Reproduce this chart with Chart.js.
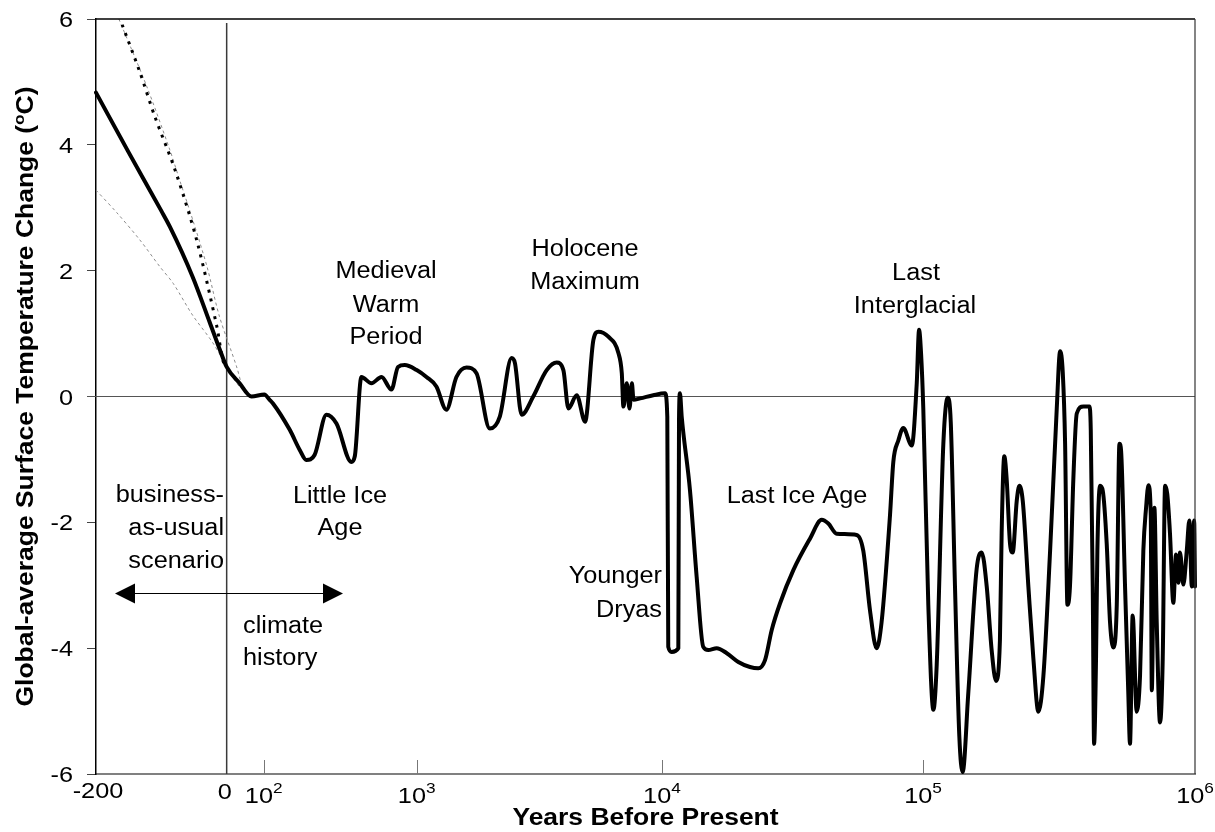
<!DOCTYPE html>
<html>
<head>
<meta charset="utf-8">
<script src="https://cdn.jsdelivr.net/npm/chart.js@4.4.1/dist/chart.umd.min.js"></script>
<style>
    html, body { margin: 0; padding: 0; background: #fff; }
    #wrap { width: 1215px; height: 832px; }
</style>
</head>
<body>
<div id="wrap"><canvas id="tempChart" width="1215" height="832"></canvas></div>
<script>
// Global-average surface temperature change, years before present
// Negative years = business-as-usual scenario (future)

// scenario part of the main curve
const scenarioYears = [-200, -150, -100, -87, -52, -26, -11, 0];
const scenarioTemp  = [4.83, 3.88, 2.95, 2.70, 1.90, 1.18, 0.76, 0.47];

// climate history part of the main curve
const historyYears = [
    35, 67, 101, 109, 115, 148, 172, 190, 215, 257, 299, 374, 394, 435, 506, 589, 684, 755, 836,
    1000, 1096, 1203, 1321, 1452, 1596, 1753, 1986, 2182, 2437, 2515, 2678, 2986, 3388, 3722, 3963,
    4153, 4492, 4857, 5253, 5502, 6045, 6643, 6857, 6962, 7186, 7370, 7540, 7653, 8150, 9212,
    10270, 10480, 10570, 10890, 11550, 11620, 11720, 11900, 12800, 13580, 14390, 15040, 16200,
    17710, 19610, 21730, 23380, 24820, 26330, 28320, 31860, 36890, 40910, 43380, 46700, 55700,
    59040, 62660, 66430, 69390, 74740, 76960, 80440, 84070, 90570, 94630, 96580, 98380,
    100250, 104600, 109200, 112300, 118800, 123300, 126500, 131100, 136000, 139900, 146700,
    157500, 164400, 171500, 178900, 185500, 191800, 194600, 199000, 203100, 208900, 213700,
    221100, 226100, 232700, 244000, 254500, 265600, 277100, 293300, 310300, 319200, 326500,
    333000, 339600, 347000, 357000, 367500, 388500, 409000, 413800, 420800, 425600, 432700,
    437600, 447800, 458100, 473600, 487100, 501100, 515700, 527500, 535000, 553100, 568600,
    576800, 590000, 610400, 627900, 645800, 660800, 674200, 687700, 693700, 709200, 723300,
    743700, 761000, 776200, 790800, 809000, 832500, 851500, 868900, 881000, 906000, 932700,
    953300, 973200, 992700, 1000000
];
const historyTemp = [
    0.21, 0.00, 0.03, -0.05, -0.11, -0.53, -0.85, -1.01, -0.93, -0.29, -0.43, -1.04, -0.95, 0.31, 0.21, 0.31, 0.11, 0.47, 0.50,
    0.42, 0.31, 0.16, -0.21, 0.31, 0.46, 0.37, -0.51, -0.32, 0.61, 0.53, -0.29, 0.00, 0.42, 0.54, 0.42,
    -0.19, 0.02, -0.40, 0.90, 1.03, 0.95, 0.69, 0.37, -0.16, 0.21, -0.19, 0.21, -0.05, -0.03, 0.02,
    0.05, -0.32, -3.98, -4.06, -4.00, -0.37, 0.05, -0.32, -1.49, -2.87, -3.98, -4.03, -4.00,
    -4.08, -4.22, -4.30, -4.32, -4.19, -3.71, -3.29, -2.76, -2.26, -1.96, -2.02, -2.18, -2.20,
    -2.45, -3.40, -4.00, -3.59, -1.89, -1.04, -0.70, -0.50, -0.78, 0.21, 1.06, 0.66,
    -0.19, -3.31, -4.98, -4.27, -0.75, -0.02, -0.41, -3.02, -5.40, -5.97, -4.72,
    -2.74, -2.48, -3.02, -4.04, -4.52, -3.87, -2.17, -0.95, -1.32, -2.34, -2.48,
    -1.66, -1.42, -1.66, -3.02, -4.16, -5.01, -4.44, -2.45, -0.19, 0.72, 0.38,
    -0.75, -3.31, -3.02, -1.32, -0.27, -0.16, -0.16, -0.53, -3.02, -5.52, -4.16,
    -2.45, -1.42, -1.50, -2.34, -3.59, -3.99, -3.31, -0.75, -0.87, -3.02, -4.72,
    -5.52, -3.48, -5.01, -4.44, -2.45, -1.77, -1.41, -1.89, -4.67, -1.77, -3.59,
    -5.18, -4.16, -1.42, -1.55, -2.17, -3.28, -2.51, -2.96, -2.48, -2.99, -2.45,
    -1.97, -3.02, -1.97, -3.02
];

// scenario spread lines
const highDotYears = [-160, -133, -110, -79, -46, -15, -6, 0];
const highDotTemp  = [5.91, 5.16, 4.45, 3.60, 2.49, 1.11, 0.58, 0.45];
const upperRangeYears = [-165, -122, -87, -72, -52, -30, -11, 27, 43];
const upperRangeTemp  = [6.00, 4.92, 3.92, 3.44, 2.81, 2.06, 1.27, 0.47, 0.12];
const lowerRangeYears = [-200, -168, -133, -102, -82, -52, -21, 16, 35];
const lowerRangeTemp  = [3.28, 2.92, 2.49, 2.06, 1.80, 1.29, 0.85, 0.31, 0.15];

// axis ticks
const yTicks = [-6, -4, -2, 0, 2, 4, 6];
const xPlainTicks = [-200, 0];
const xPowerTicks = [2, 3, 4, 5, 6];

// Piecewise x axis: linear for the scenario and first century, log beyond
const axisBreaks = [-200, 0, 100, 1e3, 1e4, 1e5, 1e6];
const axisStops = [0, 0.1189, 0.1526, 0.2918, 0.5150, 0.7525, 1];

function yearToFraction(v) {
    const n = axisBreaks.length - 1;
    for (let i = 0; i < n; i++) {
        const a = axisBreaks[i], b = axisBreaks[i + 1];
        if (v <= b || i === n - 1) {
            let t;
            if (a > 0) {
                t = (Math.log10(Math.max(v, 1e-9)) - Math.log10(a)) / (Math.log10(b) - Math.log10(a));
            } else {
                t = (v - a) / (b - a);
            }
            return axisStops[i] + t * (axisStops[i + 1] - axisStops[i]);
        }
    }
}

function fractionToYear(f) {
    const n = axisBreaks.length - 1;
    for (let i = 0; i < n; i++) {
        if (f <= axisStops[i + 1] || i === n - 1) {
            const a = axisBreaks[i], b = axisBreaks[i + 1];
            const t = (f - axisStops[i]) / (axisStops[i + 1] - axisStops[i]);
            if (a > 0) return Math.pow(10, Math.log10(a) + t * (Math.log10(b) - Math.log10(a)));
            return a + t * (b - a);
        }
    }
}

class PiecewiseScale extends Chart.Scale {
    determineDataLimits() {
        this.min = axisBreaks[0];
        this.max = axisBreaks[axisBreaks.length - 1];
    }
    buildTicks() {
        return xPlainTicks.concat(xPowerTicks.map(p => Math.pow(10, p))).map(v => ({ value: v }));
    }
    getLabelForValue(v) {
        return String(v);
    }
    getPixelForValue(v) {
        return this.getPixelForDecimal(yearToFraction(v));
    }
    getValueForPixel(p) {
        return fractionToYear(this.getDecimalForPixel(p));
    }
}
PiecewiseScale.id = 'piecewise';
PiecewiseScale.defaults = {};
Chart.register(PiecewiseScale);

function toPoints(xs, ys) {
    return xs.map((x, i) => ({ x: x, y: ys[i] }));
}

const FONT = '"Liberation Sans", Arial, sans-serif';

// text helper, the original lettering is a little wider than Arial
function drawText(ctx, str, x, y, size, opts) {
    const o = Object.assign({ bold: false, align: 'left', sx: 1.1, baseline: 'alphabetic' }, opts || {});
    ctx.save();
    ctx.font = (o.bold ? 'bold ' : '') + size + 'px ' + FONT;
    ctx.textAlign = o.align;
    ctx.textBaseline = o.baseline;
    ctx.fillStyle = '#000';
    ctx.translate(x, y);
    ctx.scale(o.sx, 1);
    ctx.fillText(str, 0, 0);
    ctx.restore();
}

function measure(ctx, str, size, bold) {
    ctx.save();
    ctx.font = (bold ? 'bold ' : '') + size + 'px ' + FONT;
    const w = ctx.measureText(str).width;
    ctx.restore();
    return w;
}

// reference lines, frame, axis labels and annotations
const decorPlugin = {
    id: 'decor',
    beforeDatasetsDraw(chart) {
        const ctx = chart.ctx;
        const area = chart.chartArea;
        const xs = chart.scales.x, ys = chart.scales.y;
        const y0 = ys.getPixelForValue(0);
        const x0 = xs.getPixelForValue(0);
        ctx.save();
        // zero temperature line
        ctx.strokeStyle = '#555';
        ctx.lineWidth = 1;
        ctx.beginPath();
        ctx.moveTo(area.left - 9, y0);
        ctx.lineTo(area.right, y0);
        ctx.stroke();
        // present day line
        ctx.strokeStyle = '#3a3a3a';
        ctx.lineWidth = 1.5;
        ctx.beginPath();
        ctx.moveTo(x0, area.top + 4);
        ctx.lineTo(x0, area.bottom);
        ctx.stroke();
        // small inside tick marks on the log part
        ctx.strokeStyle = '#777';
        ctx.lineWidth = 1;
        xPowerTicks.slice(0, 4).forEach(p => {
            const px = Math.round(xs.getPixelForValue(Math.pow(10, p))) + 0.5;
            ctx.beginPath();
            ctx.moveTo(px, area.bottom);
            ctx.lineTo(px, area.bottom - 14);
            ctx.stroke();
        });
        ctx.restore();
    },
    afterDraw(chart) {
        const ctx = chart.ctx;
        const area = chart.chartArea;
        const xs = chart.scales.x, ys = chart.scales.y;

        // frame top and right
        ctx.save();
        ctx.strokeStyle = '#000';
        ctx.lineWidth = 1.5;
        ctx.beginPath();
        ctx.moveTo(area.left, area.top);
        ctx.lineTo(area.right, area.top);
        ctx.stroke();
        ctx.strokeStyle = '#333';
        ctx.lineWidth = 1.2;
        ctx.beginPath();
        ctx.moveTo(area.right, area.top);
        ctx.lineTo(area.right, area.bottom);
        ctx.stroke();
        ctx.restore();

        // y tick labels
        yTicks.forEach(v => {
            drawText(ctx, String(v), area.left - 23, ys.getPixelForValue(v) + 8, 22, { align: 'right', sx: 1.15 });
        });

        // x tick labels
        drawText(ctx, '-200', xs.getPixelForValue(-200) + 2, 798, 22, { align: 'center', sx: 1.15 });
        drawText(ctx, '0', xs.getPixelForValue(0) - 2, 799, 22, { align: 'center', sx: 1.15 });
        xPowerTicks.forEach(p => {
            const cx = xs.getPixelForValue(Math.pow(10, p));
            const wBase = measure(ctx, '10', 22) * 1.15;
            const wExp = measure(ctx, String(p), 15) * 1.15;
            const start = cx - (wBase + wExp) / 2;
            drawText(ctx, '10', start, 803, 22, { sx: 1.15 });
            drawText(ctx, String(p), start + wBase, 793, 15, { sx: 1.15 });
        });

        // axis titles
        drawText(ctx, 'Years Before Present', (area.left + area.right) / 2, 825, 23, { bold: true, align: 'center', sx: 1.15 });

        ctx.save();
        ctx.translate(33, (area.top + area.bottom) / 2);
        ctx.rotate(-Math.PI / 2);
        const sx = 1.15;
        const part1 = 'Global-average Surface Temperature Change (';
        const part3 = 'C)';
        const w1 = measure(ctx, part1, 23, true) * sx;
        const w2 = measure(ctx, 'o', 15, true) * sx;
        const w3 = measure(ctx, part3, 23, true) * sx;
        let start = -(w1 + w2 + w3) / 2;
        drawText(ctx, part1, start, 0, 23, { bold: true, sx: sx });
        drawText(ctx, 'o', start + w1, -9, 15, { bold: true, sx: sx });
        drawText(ctx, part3, start + w1 + w2, 0, 23, { bold: true, sx: sx });
        ctx.restore();

        // annotations
        const ann = 23;
        drawText(ctx, 'Medieval', 386, 278, ann, { align: 'center' });
        drawText(ctx, 'Warm', 386, 312, ann, { align: 'center' });
        drawText(ctx, 'Period', 386, 344, ann, { align: 'center' });
        drawText(ctx, 'Holocene', 585, 256, ann, { align: 'center' });
        drawText(ctx, 'Maximum', 585, 289, ann, { align: 'center' });
        drawText(ctx, 'Last', 916, 280, ann, { align: 'center' });
        drawText(ctx, 'Interglacial', 915, 313, ann, { align: 'center' });
        drawText(ctx, 'Last Ice Age', 797, 503, ann, { align: 'center' });
        drawText(ctx, 'Younger', 662, 583, ann, { align: 'right' });
        drawText(ctx, 'Dryas', 662, 617, ann, { align: 'right' });
        drawText(ctx, 'Little Ice', 340, 503, ann, { align: 'center' });
        drawText(ctx, 'Age', 340, 535, ann, { align: 'center' });
        drawText(ctx, 'business-', 224, 502, ann, { align: 'right' });
        drawText(ctx, 'as-usual', 224, 535, ann, { align: 'right' });
        drawText(ctx, 'scenario', 224, 568, ann, { align: 'right' });
        drawText(ctx, 'climate', 243, 633, ann);
        drawText(ctx, 'history', 243, 665, ann);

        // double arrow between scenario and history
        const ay = 593.5;
        ctx.save();
        ctx.strokeStyle = '#000';
        ctx.fillStyle = '#000';
        ctx.lineWidth = 1;
        ctx.beginPath();
        ctx.moveTo(130, ay);
        ctx.lineTo(328, ay);
        ctx.stroke();
        ctx.beginPath();
        ctx.moveTo(115, ay);
        ctx.lineTo(135, ay - 10);
        ctx.lineTo(135, ay + 10);
        ctx.closePath();
        ctx.fill();
        ctx.beginPath();
        ctx.moveTo(343, ay);
        ctx.lineTo(323, ay - 10);
        ctx.lineTo(323, ay + 10);
        ctx.closePath();
        ctx.fill();
        ctx.restore();
    }
};

const mainData = toPoints(scenarioYears.concat(historyYears), scenarioTemp.concat(historyTemp));

new Chart(document.getElementById('tempChart'), {
    type: 'line',
    data: {
        datasets: [
            {
                label: 'Temperature change',
                data: mainData,
                borderColor: '#000',
                borderWidth: 4,
                cubicInterpolationMode: 'monotone',
                borderJoinStyle: 'round',
                borderCapStyle: 'round'
            },
            {
                label: 'High scenario',
                data: toPoints(highDotYears, highDotTemp),
                borderColor: '#000',
                borderWidth: 3,
                borderDash: [3, 6],
                tension: 0.3
            },
            {
                label: 'Upper range',
                data: toPoints(upperRangeYears, upperRangeTemp),
                borderColor: '#8c8c8c',
                borderWidth: 1,
                borderDash: [3, 3],
                tension: 0.3
            },
            {
                label: 'Lower range',
                data: toPoints(lowerRangeYears, lowerRangeTemp),
                borderColor: '#8c8c8c',
                borderWidth: 1,
                borderDash: [3, 3],
                tension: 0.3
            }
        ]
    },
    options: {
        responsive: false,
        animation: false,
        layout: { padding: { left: 0, top: 19, right: 20, bottom: 0 } },
        elements: { point: { radius: 0 } },
        plugins: {
            legend: { display: false },
            tooltip: { enabled: false }
        },
        scales: {
            x: {
                type: 'piecewise',
                position: 'bottom',
                grid: { display: false },
                ticks: { display: false },
                border: { display: true, color: '#808080', width: 2 },
                afterFit: s => { s.height = 58; }
            },
            y: {
                type: 'linear',
                min: -6,
                max: 6,
                ticks: { display: false, stepSize: 2 },
                grid: { drawOnChartArea: false, drawTicks: true, tickLength: 9, color: '#444' },
                border: { display: true, color: '#000', width: 1.5 },
                afterFit: s => { s.width = 96; }
            }
        }
    },
    plugins: [decorPlugin]
});
</script>
</body>
</html>
